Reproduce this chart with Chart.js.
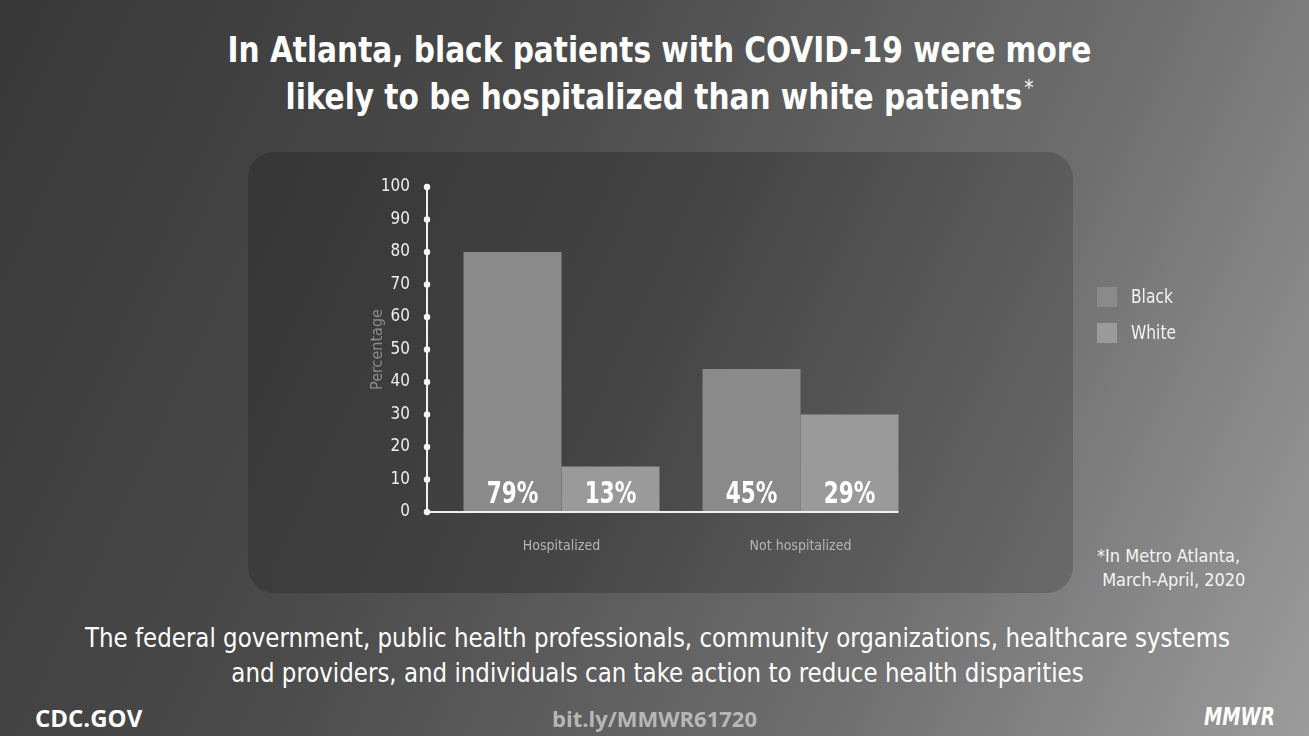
<!DOCTYPE html>
<html>
<head>
<meta charset="utf-8">
<script src="https://cdn.jsdelivr.net/npm/chart.js@4.4.1/dist/chart.umd.min.js"></script>
<style>
html,body{margin:0;padding:0;width:1309px;height:736px;overflow:hidden;}
body{position:relative;background:linear-gradient(115deg,#383838 0%,#4a4a4a 35%,#6e6e6e 70%,#9c9c9c 100%);font-family:"DejaVu Sans Condensed","DejaVu Sans",sans-serif;color:#fff;}
#panel{position:absolute;left:248px;top:152px;width:825px;height:441px;border-radius:26px;background:linear-gradient(115deg,#363636 0%,#434343 45%,#6a6a6a 100%);}
#title{position:absolute;left:5px;top:27px;width:1309px;text-align:center;font-weight:bold;font-size:35px;line-height:47px;color:#fff;transform:scaleX(0.94);transform-origin:center;}
#title .ast{font-size:22px;font-weight:normal;position:relative;top:-14px;margin-left:2px;}
#note{position:absolute;left:1097px;top:544px;font-size:18px;line-height:24px;color:#f4f4f4;}
#sub{position:absolute;left:3px;top:620px;width:1309px;text-align:center;font-size:27px;line-height:35px;color:#fff;transform:scaleX(0.945);transform-origin:center;}
.foot{position:absolute;font-family:"Open Sans","DejaVu Sans",sans-serif;font-weight:bold;line-height:30px;}
#cdc{left:35px;top:703px;font-size:24px;color:#fff;}
#bit{left:0;top:703px;width:1309px;text-align:center;color:#b7b7b7;font-size:22px;}
#mmwr{left:1204px;top:702px;color:#fff;font-family:"DejaVu Sans Condensed","DejaVu Sans",sans-serif;font-style:italic;font-size:24px;transform:scaleX(0.85);transform-origin:left center;}
#wrap{position:absolute;left:0;top:0;width:1309px;height:736px;}
</style>
</head>
<body>
<div id="panel"></div>
<div id="title">In Atlanta, black patients with COVID-19 were more<br>likely to be hospitalized than white patients<span class="ast">*</span></div>
<div id="note">*In Metro Atlanta,<br>&nbsp;March-April, 2020</div>
<div id="sub">The federal government, public health professionals, community organizations, healthcare systems<br>and providers, and individuals can take action to reduce health disparities</div>
<div class="foot" id="cdc">CDC.GOV</div>
<div class="foot" id="bit">bit.ly/MMWR61720</div>
<div class="foot" id="mmwr">MMWR</div>
<div id="wrap"><canvas id="c" width="1309" height="736"></canvas></div>
<script>
const categories = ["Hospitalized", "Not hospitalized"];
const seriesNames = ["Black", "White"];
const blackValues = [80, 44];
const whiteValues = [14, 30];
const blackLabels = ["79%", "45%"];
const whiteLabels = ["13%", "29%"];
const seriesColors = ["#8a8a8a", "#9a9a9a"];
const yMin = 0, yMax = 100, yStep = 10;
const yTitle = "Percentage";

const FONT = "'DejaVu Sans Condensed','DejaVu Sans',sans-serif";

function squeezeText(ctx, text, x, y, sx) {
  ctx.save();
  ctx.translate(x, y);
  ctx.scale(sx, 1);
  ctx.fillText(text, 0, 0);
  ctx.restore();
}

const customPlugin = {
  id: 'custom',
  afterDatasetsDraw(chart) {
    const {ctx, scales: {x, y}, chartArea} = chart;
    const ax = chartArea.left - 15;
    const y0 = y.getPixelForValue(yMin);
    const yTop = y.getPixelForValue(yMax);
    ctx.save();
    // value labels
    const labelSets = [blackLabels, whiteLabels];
    chart.data.datasets.forEach((ds, di) => {
      const meta = chart.getDatasetMeta(di);
      meta.data.forEach((el, i) => {
        ctx.fillStyle = '#ffffff';
        ctx.font = "bold 30px " + FONT;
        ctx.textAlign = 'center';
        ctx.textBaseline = 'alphabetic';
        squeezeText(ctx, labelSets[di][i], el.x, y0 - 9, 0.8);
      });
    });
    // axes
    let maxRight = 0;
    chart.data.datasets.forEach((ds, di) => {
      chart.getDatasetMeta(di).data.forEach(el => { maxRight = Math.max(maxRight, el.x + el.width / 2); });
    });
    ctx.strokeStyle = '#f0f0f0';
    ctx.lineWidth = 2;
    ctx.beginPath(); ctx.moveTo(ax, yTop); ctx.lineTo(ax, y0); ctx.stroke();
    ctx.beginPath(); ctx.moveTo(ax, y0); ctx.lineTo(maxRight, y0); ctx.stroke();
    ctx.fillStyle = '#f4f4f4';
    y.ticks.forEach(t => {
      ctx.beginPath(); ctx.arc(ax, y.getPixelForValue(t.value), 3.2, 0, Math.PI * 2); ctx.fill();
    });
    // legend
    chart.data.datasets.forEach((ds, di) => {
      const ly = 287 + di * 36;
      ctx.fillStyle = ds.backgroundColor;
      ctx.fillRect(1097, ly, 20, 20);
      ctx.fillStyle = '#f2f2f2';
      ctx.font = "20px " + FONT;
      ctx.textAlign = 'left';
      ctx.textBaseline = 'middle';
      squeezeText(ctx, ds.label, 1131, ly + 11, 0.86);
    });
    ctx.restore();
  }
};

new Chart(document.getElementById('c'), {
  type: 'bar',
  data: {
    labels: categories,
    datasets: [
      {label: seriesNames[0], data: blackValues, backgroundColor: seriesColors[0], borderWidth: 0},
      {label: seriesNames[1], data: whiteValues, backgroundColor: seriesColors[1], borderWidth: 0}
    ]
  },
  options: {
    responsive: false,
    animation: false,
    devicePixelRatio: 1,
    layout: {padding: {left: 0, top: 187, right: 389, bottom: 164}},
    datasets: {bar: {categoryPercentage: 0.82, barPercentage: 1.0}},
    plugins: {legend: {display: false}, tooltip: {enabled: false}, title: {display: false}},
    scales: {
      x: {
        grid: {display: false},
        border: {display: false},
        ticks: {color: '#b4b4b4', font: {family: FONT, size: 14}, padding: 18},
        afterFit: s => { s.height = 60; }
      },
      y: {
        min: yMin, max: yMax,
        grid: {display: false},
        border: {display: false},
        ticks: {stepSize: yStep, color: '#eeeeee', font: {family: FONT, size: 17}, padding: 24},
        title: {display: true, text: yTitle, color: '#8c8c8c', font: {family: FONT, size: 16}, padding: {top: 368, bottom: 0}},
        afterFit: s => { s.width = 442; }
      }
    }
  },
  plugins: [customPlugin]
});
</script>
</body>
</html>
